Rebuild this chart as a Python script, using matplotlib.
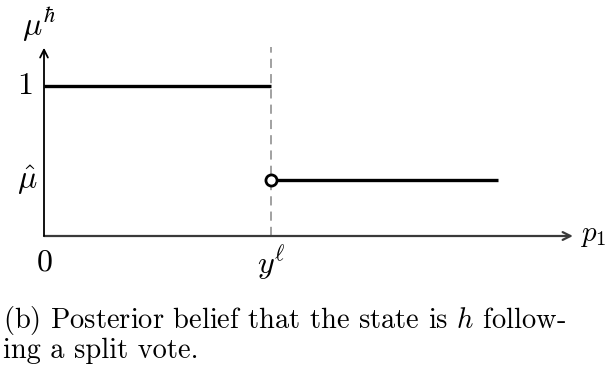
import matplotlib.pyplot as plt

plt.rcParams['mathtext.fontset'] = 'cm'
plt.rcParams['font.family'] = 'cmr10'
plt.rcParams['axes.formatter.use_mathtext'] = True

# belief levels and threshold (threshold normalised to 1)
Y_L = 1.0
X_END = 2.0
MU_HAT = 0.373
MU_HIGH = 1.0

fig = plt.figure(figsize=(6.05, 3.74), dpi=100)
ax = fig.add_axes([0, 0, 1, 1])
ax.set_xlim(-44 / 227, (605 - 44) / 227)
ax.set_ylim((236 - 374) / 150, 236 / 150)
ax.axis('off')

axis_col = '#3a3a3a'
# axes with arrow heads
ax.annotate('', xy=(2.33, 0), xytext=(0, 0),
            arrowprops=dict(arrowstyle='->', color=axis_col, lw=1.6,
                            shrinkA=0, shrinkB=0, mutation_scale=14))
ax.annotate('', xy=(0, 1.255), xytext=(0, 0),
            arrowprops=dict(arrowstyle='->', color='black', lw=1.3,
                            shrinkA=0, shrinkB=0, mutation_scale=14))

# threshold
ax.plot([Y_L, Y_L], [0, 1.26], color='#888888', lw=1.1, ls=(0, (6, 4)))

# belief step function
ax.plot([0, Y_L], [MU_HIGH, MU_HIGH], color='black', lw=2.4, solid_capstyle='butt')
ax.plot([Y_L, X_END], [MU_HAT, MU_HAT], color='black', lw=2.4, solid_capstyle='butt')
ax.plot([Y_L], [MU_HAT], 'o', ms=8, mfc='white', mec='black', mew=2.0)

fs = 23
ax.text(-0.083, MU_HIGH, '$1$', ha='center', va='center', fontsize=fs)
ax.text(-0.075, MU_HAT, r'$\hat{\mu}$', ha='center', va='center', fontsize=fs)
ax.text(0, -0.18, '$0$', ha='center', va='center', fontsize=fs)
ax.text(Y_L, -0.18, r'$y^{\ell}$', ha='center', va='center', fontsize=fs)
ax.text(-0.02, 1.41, r'$\mu^{\hbar}$', ha='center', va='center', fontsize=fs)
ax.text(2.36, 0, r'$p_1$', ha='left', va='center', fontsize=21)

cap = 20.5
fig.text(3 / 605, 1 - 328 / 374, '(b) Posterior belief that the state is $h$ follow-',
         ha='left', va='baseline', fontsize=cap)
fig.text(3 / 605, 1 - 358 / 374, 'ing a split vote.',
         ha='left', va='baseline', fontsize=cap)

fig.savefig('out.png', dpi=100)
